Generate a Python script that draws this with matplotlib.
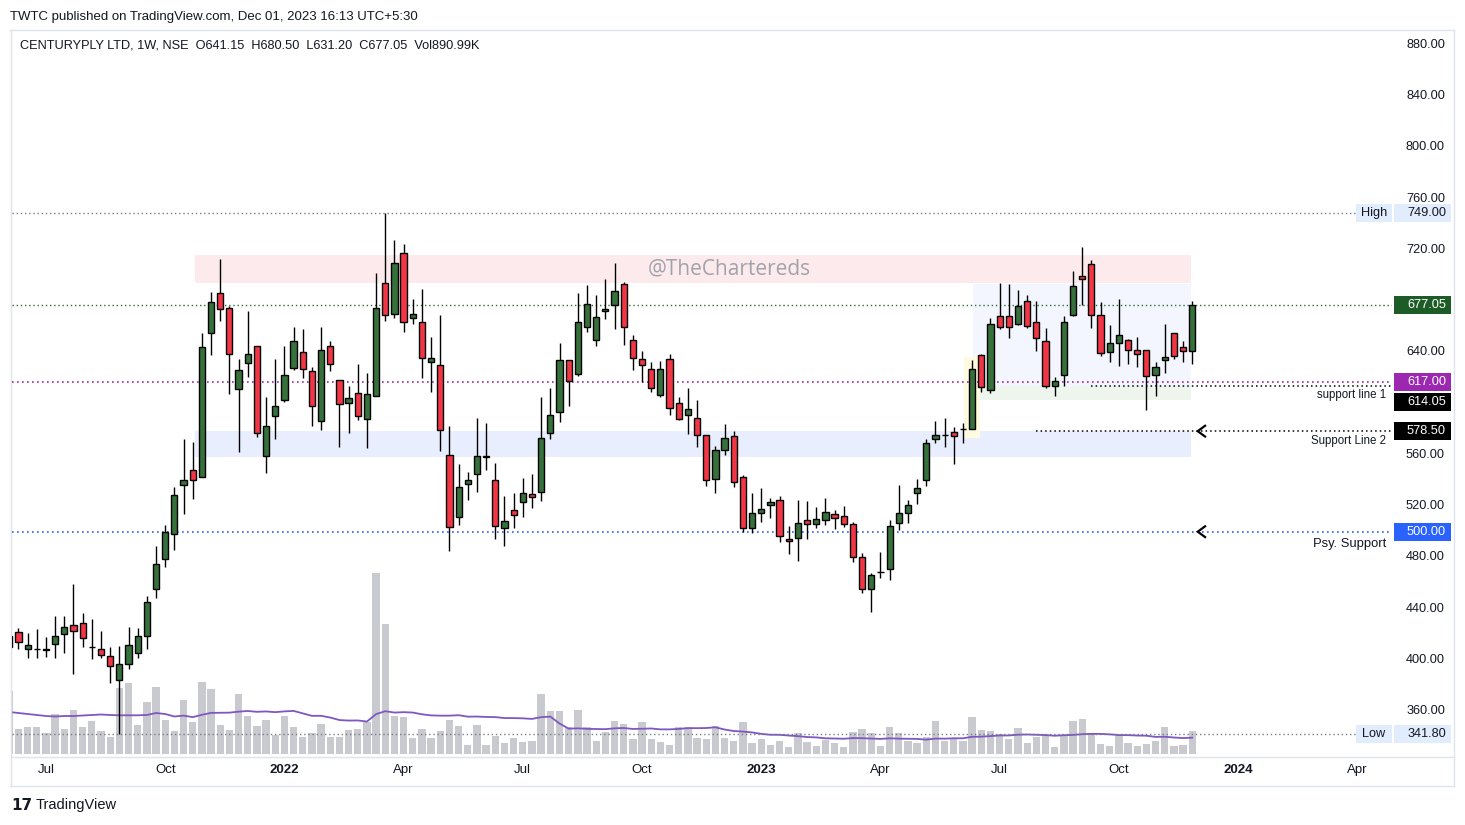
import matplotlib
matplotlib.use('Agg')
import matplotlib.pyplot as plt
import matplotlib.transforms as mtransforms
from matplotlib.patches import Rectangle
from matplotlib.lines import Line2D
import numpy as np
import pandas as pd

plt.rcParams['font.family'] = ['Liberation Sans', 'DejaVu Sans']

# ---------------- data (weekly candles, CENTURYPLY, NSE) ----------------
start_week = '2021-06-07'
opens = [409.7, 421.5, 408.2, 408.2, 408.2, 412.1, 419.9, 426.9, 428.5, 409.7,
         408.2, 402.7, 384.2, 396.5, 405.1, 418.3, 455.0, 478.5, 497.9, 536.2,
         547.9, 542.5, 654.9, 686.2, 674.4, 611.2, 631.5, 644.8, 558.9, 590.5,
         602.6, 627.6, 640.1, 625.2, 586.2, 644.8, 618.2, 600.3, 608.1, 587.8,
         605.7, 694.0, 669.8, 717.4, 666.7, 663.5, 632.3, 629.9, 559.7, 511.3,
         537.0, 544.9, 558.6, 540.1, 502.7, 516.7, 523.0, 529.2, 530.8, 576.9,
         593.3, 633.8, 622.9, 659.6, 649.4, 672.1, 676.8, 693.2, 649.4, 634.6,
         626.8, 606.5, 634.6, 600.3, 591.0, 588.6, 575.3, 540.9, 563.6, 574.5,
         542.5, 502.7, 514.4, 520.7, 524.5, 494.1, 494.8, 508.9, 505.8, 508.9,
         513.6, 512.1, 505.8, 480.0, 455.0, 468.3, 470.7, 506.6, 514.4, 530.0,
         540.1, 572.1, 575.3, 577.6, 579.9, 579.9, 637.7, 610.4, 668.2, 668.2,
         661.9, 679.9, 663.5, 648.7, 613.6, 622.1, 669.0, 699.4, 708.8, 669.0,
         640.1, 647.1, 649.4, 641.6, 641.6, 622.1, 633.8, 655.0, 644.0, 641.15]
highs = [420.0, 424.6, 420.7, 423.8, 417.6, 434.2, 434.2, 459.1, 436.3, 431.8,
         422.5, 409.7, 410.8, 425.4, 424.6, 449.8, 488.8, 505.0, 534.7, 572.1,
         569.8, 654.9, 687.0, 712.7, 676.0, 634.6, 672.1, 644.8, 605.3, 634.6,
         644.8, 659.6, 658.0, 628.3, 659.6, 648.7, 618.2, 613.6, 630.7, 623.7,
         701.8, 749.0, 727.5, 724.4, 681.5, 689.3, 651.8, 669.0, 582.3, 552.6,
         546.4, 588.5, 584.6, 553.4, 527.6, 530.0, 541.7, 544.8, 605.3, 612.0,
         647.1, 633.8, 686.2, 692.4, 684.6, 697.1, 709.8, 694.8, 653.3, 640.9,
         632.3, 633.0, 638.5, 604.9, 612.0, 602.6, 575.3, 566.7, 583.9, 578.4,
         544.0, 530.0, 533.9, 526.1, 527.6, 504.2, 524.5, 523.7, 519.1, 526.1,
         516.7, 519.9, 507.3, 483.1, 467.5, 483.9, 508.9, 536.2, 524.5, 540.9,
         572.1, 586.2, 588.5, 581.5, 584.6, 633.8, 638.5, 666.7, 694.0, 693.2,
         688.5, 684.6, 679.9, 658.8, 620.6, 668.2, 703.3, 722.1, 711.9, 679.1,
         661.1, 681.5, 650.2, 651.8, 641.6, 632.3, 661.9, 655.0, 648.7, 680.50]
lows = [408.0, 408.4, 401.6, 401.6, 402.4, 401.6, 405.5, 388.6, 410.2, 400.4,
        401.6, 382.1, 341.8, 392.6, 401.6, 408.2, 448.5, 472.7, 485.7, 513.8,
        525.3, 542.5, 638.2, 664.3, 607.3, 562.5, 620.6, 573.7, 545.8, 572.1,
        601.0, 626.0, 620.3, 582.3, 579.2, 625.2, 565.9, 576.9, 587.0, 565.1,
        605.7, 664.3, 666.7, 655.7, 661.9, 619.8, 608.9, 562.8, 485.2, 505.0,
        524.5, 530.8, 547.9, 494.1, 488.6, 502.7, 511.3, 518.3, 523.8, 572.1,
        585.4, 598.0, 621.4, 655.7, 644.8, 665.9, 658.0, 645.5, 626.0, 616.7,
        608.9, 604.9, 591.0, 587.0, 576.1, 565.9, 535.5, 530.0, 559.7, 534.7,
        499.5, 498.8, 507.3, 510.5, 491.7, 482.4, 476.9, 494.1, 502.7, 505.0,
        502.0, 503.4, 476.1, 452.1, 437.1, 463.6, 462.0, 501.2, 506.6, 521.4,
        535.5, 569.0, 565.9, 552.6, 569.0, 579.9, 608.9, 608.1, 658.0, 651.0,
        661.1, 658.8, 640.9, 612.0, 605.7, 613.6, 668.2, 676.8, 658.8, 636.9,
        632.3, 629.2, 630.7, 628.4, 594.8, 605.7, 623.7, 634.6, 632.3, 631.20]
closes = [418.6, 413.7, 411.3, 408.4, 408.0, 418.3, 425.4, 422.3, 417.0, 409.9,
          403.7, 394.9, 396.5, 411.3, 418.3, 444.9, 474.5, 499.5, 528.4, 540.1,
          540.1, 644.0, 679.1, 673.7, 638.5, 626.0, 638.5, 576.8, 582.3, 598.3,
          622.1, 648.7, 626.8, 597.9, 641.6, 630.7, 599.5, 604.2, 590.2, 607.3,
          674.4, 669.0, 709.6, 663.5, 669.8, 635.4, 635.4, 579.2, 503.5, 534.7,
          540.1, 558.9, 558.8, 504.2, 508.1, 512.8, 530.0, 526.9, 573.0, 591.0,
          633.8, 617.4, 663.5, 677.5, 667.4, 673.7, 687.8, 659.6, 635.4, 629.9,
          612.0, 626.8, 596.4, 587.8, 595.6, 575.3, 540.1, 563.6, 573.0, 538.6,
          502.7, 514.4, 517.5, 523.0, 496.4, 492.5, 506.6, 505.8, 509.7, 515.2,
          510.5, 505.8, 480.0, 455.3, 465.9, 468.5, 504.2, 514.4, 520.7, 533.9,
          569.0, 575.3, 575.5, 574.5, 580.1, 626.8, 612.8, 661.9, 659.6, 659.6,
          676.0, 660.4, 651.0, 613.6, 617.4, 663.5, 691.6, 697.1, 669.0, 639.3,
          647.1, 653.3, 641.6, 638.5, 621.4, 628.4, 636.2, 636.9, 640.9, 677.05]
volumes_k = [2476, 983, 1061, 1061, 825, 1572, 983, 1729, 1061, 1297,
             904, 668, 2594, 2790, 1140, 2044, 2633, 1336, 904, 2122,
             1258, 2830, 2555, 1140, 943, 2358, 1493, 1100, 1336, 747,
             1493, 1061, 668, 825, 1179, 668, 668, 943, 983, 1258,
             7113, 5109, 1493, 1454, 629, 983, 629, 904, 1336, 1100,
             354, 1140, 354, 707, 432, 629, 472, 511, 2358, 1690,
             1690, 1061, 1729, 1061, 511, 853, 1285, 1167, 578, 1246,
             578, 460, 342, 1049, 1049, 617, 578, 1089, 617, 499,
             1246, 421, 578, 342, 499, 263, 814, 460, 303, 538,
             421, 263, 853, 971, 814, 303, 1049, 814, 499, 421,
             656, 1285, 499, 617, 499, 1442, 931, 892, 774, 578,
             1010, 421, 656, 735, 263, 735, 1285, 1364, 774, 381,
             303, 735, 421, 303, 381, 499, 1049, 303, 342, 891]
# 20-week volume MA as shown for the first bars (earlier history not on the chart)
vol_ma_head_k = [1651, 1611, 1572, 1533, 1493, 1474, 1493, 1493, 1513, 1533,
                 1552, 1533, 1521, 1521, 1521, 1533, 1611, 1572, 1474]

price_ticks = [880, 840, 800, 760, 720, 640, 560, 520, 480, 440, 400, 360]

# levels / zones (price values)
high_level = 749.00
low_level = 341.80
last_close = closes[-1]
purple_level = 617.00
support1 = 614.05
support2 = 578.50
psy_support = 500.00
resist_zone = (694.2, 716.0)
demand_zone = (558.3, 578.6)
range_box = (613.0, 693.4)
green_box = (602.8, 613.8)
yellow_box = (572.9, 636.2)

# ---------------- figure geometry ----------------
W, H = 1465, 825
fig = plt.figure(figsize=(W / 100, H / 100), dpi=100)
fig.patch.set_facecolor('white')

PX0, PX1 = 12, 1392   # pane x-extent in pixels
PY0, PY1 = 30, 757    # pane y-extent in pixels
ax = fig.add_axes([PX0 / W, 1 - PY1 / H, (PX1 - PX0) / W, (PY1 - PY0) / H])
axv = ax.twinx()
ax.set_zorder(2)
axv.set_zorder(1)
ax.patch.set_visible(False)

n = len(opens)
idx = np.arange(n)

step = 9.17
x_first = 9.3
ax.set_xlim((PX0 - x_first) / step, (PX1 - x_first) / step)
ppu = 1.2808  # pixels per price unit
ax.set_ylim(880 - (PY1 - 45) / ppu, 880 + (45 - PY0) / ppu)

kvol_per_px = 39.3
axv.set_ylim(-(PY1 - 754) * kvol_per_px, (754 - PY0) * kvol_per_px)

for a in (ax, axv):
    for s in a.spines.values():
        s.set_visible(False)
    a.set_xticks([])
    a.set_yticks([])

# ---------------- volume ----------------
axv.bar(idx, volumes_k, width=0.8, color='#c9cad0', zorder=1)
vol_ma = pd.Series(volumes_k).rolling(20).mean().to_numpy()
vol_ma[:len(vol_ma_head_k)] = vol_ma_head_k
axv.plot(idx, vol_ma, color='#7e57c2', lw=1.3, zorder=2)

# ---------------- zones ----------------
zl, zr = 20.25, 128.85
def zone(x0, x1, p, color, z=0.5):
    ax.add_patch(Rectangle((x0, p[0]), x1 - x0, p[1] - p[0], facecolor=color,
                           edgecolor='none', zorder=z))
zone(zl, zr, resist_zone, '#fdeaec')
zone(zl, zr, demand_zone, '#e8eefd')
zone(105.1, zr, range_box, '#f3f6fe')
zone(104.1, zr, green_box, '#edf5ec')
zone(104.1, 105.9, yellow_box, '#fffbe0', z=0.6)

# ---------------- horizontal lines ----------------
dot = (0, (1, 2))
ax.axhline(high_level, color='#787b86', lw=1, ls=dot, zorder=1)
ax.axhline(last_close, color='#2e6b34', lw=1, ls=dot, zorder=1)
ax.axhline(purple_level, color='#9c27b0', lw=1.2, ls=dot, zorder=1)
ax.axhline(psy_support, color='#2962ff', lw=1.2, ls=dot, zorder=1)
ax.axhline(low_level, color='#787b86', lw=1, ls=dot, zorder=1)
xr = ax.get_xlim()[1]
ax.plot([118.0, xr], [support1, support1], color='black', lw=1.1, ls=dot, zorder=1)
ax.plot([112.0, xr], [support2, support2], color='black', lw=1.1, ls=dot, zorder=1)

# chevrons
for lvl in (support2, psy_support):
    ax.plot([130.4, 129.6, 130.4], [lvl + 4.2, lvl, lvl - 4.2], color='black',
            lw=1.6, solid_joinstyle='miter', zorder=4)

# ---------------- candles ----------------
o = np.array(opens); c = np.array(closes); h = np.array(highs); l = np.array(lows)
up = c >= o
colors = np.where(up, '#36703b', '#f23645')
ax.vlines(idx, l, h, color='black', lw=1, zorder=3)
body_lo = np.minimum(o, c)
body_h = np.maximum(np.abs(c - o), 0.3)
ax.bar(idx, body_h, bottom=body_lo, width=0.68, color=colors, edgecolor='black',
       linewidth=1, zorder=4)

# watermark
ax.text((729 - x_first) / step, 880 - (269 - 45) / ppu, '@TheChartereds', fontsize=15,
        color='#a0a3ab', ha='center', va='center', zorder=2,
        family=['Open Sans', 'DejaVu Sans'])

# ---------------- price scale ----------------
bt = mtransforms.blended_transform_factory(ax.transAxes, ax.transData)
def axx(px):
    return (px - PX0) / (PX1 - PX0)

for p in price_ticks:
    ax.text(axx(1445), p, f'{p:.2f}', transform=bt, ha='right', va='center',
            fontsize=9.2, color='#131722', clip_on=False, zorder=5)

tag_h = 18 / ppu
def tag(price, text, bg, fg, shift_px=0):
    yc = price - shift_px / ppu
    ax.add_patch(Rectangle((axx(1394), yc - tag_h / 2), axx(1451) - axx(1394), tag_h,
                           transform=bt, facecolor=bg, edgecolor='none',
                           clip_on=False, zorder=6))
    ax.text(axx(1446), yc, text, transform=bt, ha='right', va='center',
            fontsize=9.2, color=fg, clip_on=False, zorder=7)

def side_label(price, text):
    ax.add_patch(Rectangle((axx(1356), price - tag_h / 2), axx(1392) - axx(1356), tag_h,
                           transform=bt, facecolor='#e1ecfc', edgecolor='none',
                           clip_on=False, zorder=6))
    ax.text(axx(1374), price, text, transform=bt, ha='center', va='center',
            fontsize=9.2, color='#131722', clip_on=False, zorder=7)

tag(high_level, f'{high_level:.2f}', '#e1ecfc', '#131722')
side_label(high_level, 'High')
tag(last_close, f'{last_close:.2f}', '#1e5c27', 'white')
tag(purple_level, f'{purple_level:.2f}', '#9c27b0', 'white')
tag(support1, f'{support1:.2f}', '#000000', 'white', shift_px=16)
tag(support2, f'{support2:.2f}', '#000000', 'white')
tag(psy_support, f'{psy_support:.2f}', '#2962ff', 'white')
tag(low_level, f'{low_level:.2f}', '#e1ecfc', '#131722')
side_label(low_level, 'Low')

# line labels
ax.text(axx(1386), 880 - (395 - 45) / ppu, 'support line 1', transform=bt, ha='right',
        va='center', fontsize=8.3, color='#131722', clip_on=False, zorder=7)
ax.text(axx(1386), 880 - (441 - 45) / ppu, 'Support Line 2', transform=bt, ha='right',
        va='center', fontsize=8.3, color='#131722', clip_on=False, zorder=7)
ax.text(axx(1386), 880 - (544 - 45) / ppu, 'Psy. Support', transform=bt, ha='right',
        va='center', fontsize=9.4, color='#131722', clip_on=False, zorder=7)

# ---------------- time scale ----------------
all_weeks = pd.date_range(start_week, periods=160, freq='W-MON')
tb = mtransforms.blended_transform_factory(ax.transData, ax.transAxes)
ty = -(770 - PY1) / (PY1 - PY0)
for k, d in enumerate(all_weeks):
    if d.month in (1, 4, 7, 10) and d.day <= 7:
        if d.month == 1:
            lab, wt = str(d.year), 'bold'
        else:
            lab, wt = d.strftime('%b'), 'normal'
        ax.text(k, ty, lab, transform=tb, ha='center', va='center', fontsize=9.5,
                fontweight=wt, color='#131722', clip_on=False)

# ---------------- frame & header ----------------
def px(x, y):
    return x / W, 1 - y / H
def fline(x0, y0, x1, y1, color='#e0e3eb', lw=1):
    a, b = px(x0, y0); c2, d2 = px(x1, y1)
    fig.add_artist(Line2D([a, c2], [b, d2], color=color, lw=lw, transform=fig.transFigure))

fline(10, 30, 1454, 30)
fline(11, 30, 11, 786)
fline(1454, 30, 1454, 786)
fline(10, 786, 1454, 786)
fline(11, 757, 1454, 757)

fig.text(*px(10, 17), 'TWTC published on TradingView.com, Dec 01, 2023 16:13 UTC+5:30',
         fontsize=9.5, color='#131722', va='center', ha='left')
fig.text(*px(20, 46), 'CENTURYPLY LTD, 1W, NSE  O641.15  H680.50  L631.20  C677.05  Vol890.99K',
         fontsize=9.2, color='#131722', va='center', ha='left')
fig.text(*px(11, 805), '17', fontsize=11, fontweight='heavy', color='#131722',
         va='center', ha='left', family=['DejaVu Sans'])
fig.text(*px(36, 805), 'TradingView', fontsize=10.5, color='#131722', va='center', ha='left')

fig.savefig('out.png', dpi=100, facecolor='white')
